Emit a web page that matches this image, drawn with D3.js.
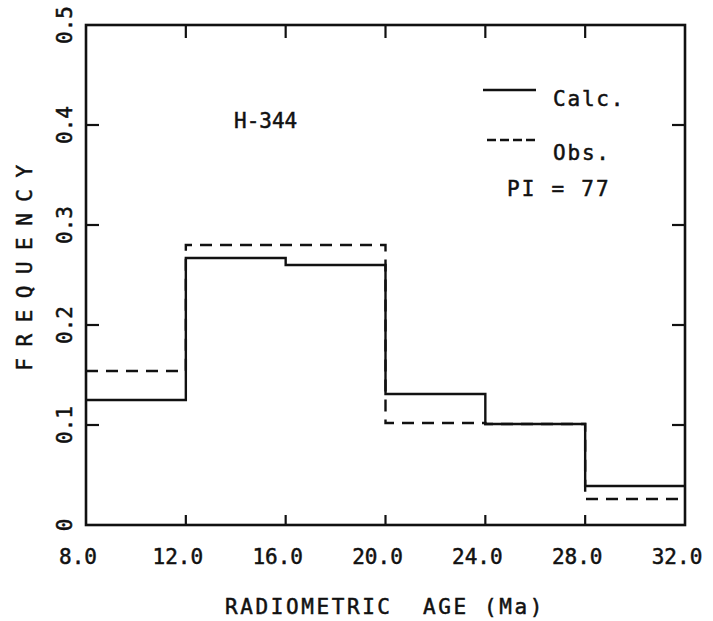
<!DOCTYPE html>
<html>
<head>
<meta charset="utf-8">
<script src="https://cdn.jsdelivr.net/npm/d3@7"></script>
<style>
  body { margin: 0; background: #fff; }
  text { font-family: "DejaVu Sans Mono", monospace; fill: #111; stroke: #111; stroke-width: 0.5px; }
</style>
</head>
<body>
<script>
(function(){

    // bin edges (Ma) and frequencies
    var binEdges = [8, 12, 16, 20, 24, 28, 32];
    var calcFreq = [0.125, 0.267, 0.260, 0.131, 0.101, 0.039];
    var obsFreq  = [0.154, 0.280, 0.280, 0.102, 0.101, 0.026];

    var xTicks = [8, 12, 16, 20, 24, 28, 32];
    var yTicks = [0, 0.1, 0.2, 0.3, 0.4, 0.5];
    var legendLabels = ["Calc.", "Obs."];
    var sampleName = "H-344";
    var piLabel = "PI = 77";

    var width = 713, height = 621;
    var left = 86, right = 685, top = 25, bottom = 525;
    var fs = 21;

    var svg = d3.select("body").append("svg")
        .attr("width", width)
        .attr("height", height);

    var x = d3.scaleLinear().domain([8, 32]).range([left, right]);
    var y = d3.scaleLinear().domain([0, 0.5]).range([bottom, top]);

    //step points: one per bin start plus the closing edge
    function stepPoints(vals){
        var pts = vals.map(function(v, i){ return [binEdges[i], v]; });
        pts.push([binEdges[binEdges.length - 1], vals[vals.length - 1]]);
        return pts;
    }

    var line = d3.line()
        .x(function(d){ return x(d[0]); })
        .y(function(d){ return y(d[1]); })
        .curve(d3.curveStepAfter);

    // observed (dashed) under calculated (solid)
    svg.append("path")
        .datum(stepPoints(obsFreq))
        .attr("d", line)
        .attr("fill", "none")
        .attr("stroke", "#111")
        .attr("stroke-width", 2.4)
        .attr("stroke-dasharray", "12,8");

    svg.append("path")
        .datum(stepPoints(calcFreq))
        .attr("d", line)
        .attr("fill", "none")
        .attr("stroke", "#111")
        .attr("stroke-width", 2.4);

    // frame
    svg.append("rect")
        .attr("x", left).attr("y", top)
        .attr("width", right - left).attr("height", bottom - top)
        .attr("fill", "none")
        .attr("stroke", "#111")
        .attr("stroke-width", 2.6);

    // inner ticks on all four sides
    var innerX = xTicks.slice(1, -1), innerY = yTicks.slice(1, -1);
    svg.append("g").selectAll("line")
        .data(innerX).enter().append("line")
        .attr("x1", function(d){ return x(d); }).attr("x2", function(d){ return x(d); })
        .attr("y1", bottom).attr("y2", bottom - 10)
        .attr("stroke", "#111").attr("stroke-width", 2.2);
    svg.append("g").selectAll("line")
        .data(innerX).enter().append("line")
        .attr("x1", function(d){ return x(d); }).attr("x2", function(d){ return x(d); })
        .attr("y1", top).attr("y2", top + 13)
        .attr("stroke", "#111").attr("stroke-width", 2.2);
    svg.append("g").selectAll("line")
        .data(innerY).enter().append("line")
        .attr("x1", left).attr("x2", left + 13)
        .attr("y1", function(d){ return y(d); }).attr("y2", function(d){ return y(d); })
        .attr("stroke", "#111").attr("stroke-width", 2.2);
    svg.append("g").selectAll("line")
        .data(innerY).enter().append("line")
        .attr("x1", right).attr("x2", right - 13)
        .attr("y1", function(d){ return y(d); }).attr("y2", function(d){ return y(d); })
        .attr("stroke", "#111").attr("stroke-width", 2.2);

    // x tick labels
    svg.append("g").selectAll("text")
        .data(xTicks).enter().append("text")
        .attr("x", function(d){ return x(d) - 8; })
        .attr("y", 564)
        .attr("text-anchor", "middle")
        .attr("font-size", fs)
        .text(function(d){ return d3.format(".1f")(d); });

    // y tick labels, rotated
    svg.append("g").selectAll("text")
        .data(yTicks).enter().append("text")
        .attr("transform", function(d){ return "translate(72," + y(d) + ") rotate(-90)"; })
        .attr("text-anchor", "middle")
        .attr("font-size", fs)
        .text(function(d){ return d === 0 ? "0" : d3.format(".1f")(d); });

    // axis titles
    svg.append("text")
        .attr("x", 385).attr("y", 614)
        .attr("text-anchor", "middle")
        .attr("font-size", fs)
        .attr("letter-spacing", 2.6)
        .style("white-space", "pre")
        .text("RADIOMETRIC  AGE (Ma)");

    svg.append("text")
        .attr("transform", "translate(32,262) rotate(-90)")
        .attr("text-anchor", "middle")
        .attr("font-size", fs)
        .attr("letter-spacing", 11.5)
        .text("FREQUENCY");

    // sample label
    svg.append("text")
        .attr("x", 234).attr("y", 128)
        .attr("font-size", fs)
        .text(sampleName);

    // legend
    svg.append("line")
        .attr("x1", 483).attr("x2", 536).attr("y1", 90).attr("y2", 90)
        .attr("stroke", "#111").attr("stroke-width", 2.4);
    svg.append("line")
        .attr("x1", 487).attr("x2", 536).attr("y1", 140).attr("y2", 140)
        .attr("stroke", "#111").attr("stroke-width", 2.4)
        .attr("stroke-dasharray", "9,4");

    svg.append("g").selectAll("text")
        .data(legendLabels).enter().append("text")
        .attr("x", 553)
        .attr("y", function(d, i){ return 106 + i * 54; })
        .attr("font-size", fs)
        .attr("letter-spacing", 1.8)
        .text(function(d){ return d; });

    svg.append("text")
        .attr("x", 507).attr("y", 196)
        .attr("font-size", fs)
        .attr("letter-spacing", 2.2)
        .style("white-space", "pre")
        .text(piLabel);

}) ();
</script>
</body>
</html>
